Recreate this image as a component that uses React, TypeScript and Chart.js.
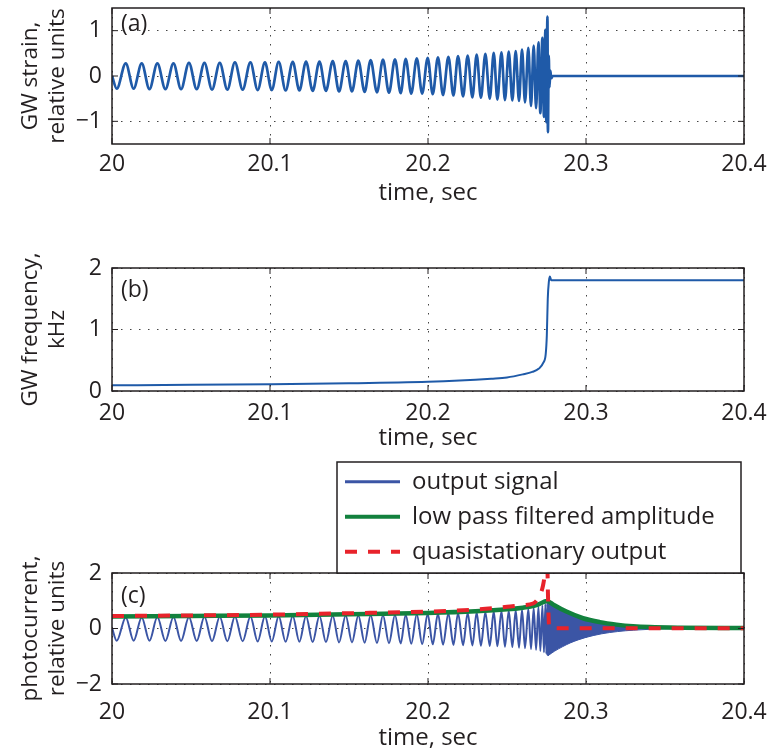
import React, { useEffect, useRef } from "react";
import { Chart, registerables } from "chart.js";
Chart.register(...registerables);

const FONT = '"Open Sans", "DejaVu Sans", sans-serif';
const TEXT = "#231f20";
const BLUE_A = "#1f5aa8";
const BLUE_C = "#3b55a5";
const GREEN = "#12813d";
const RED = "#e8232b";

const timeTicks = [20, 20.1, 20.2, 20.3, 20.4];
const strainTicks = [-1, 0, 1];
const freqTicks = [0, 1, 2];
const photoTicks = [-2, 0, 2];

// times of the extrema of the chirp oscillation
const oscTimes = [
  20.0, 20.003, 20.0087, 20.0137, 20.0188, 20.0237, 20.0287, 20.0338, 20.0389, 20.0437,
  20.0487, 20.0536, 20.0585, 20.0633, 20.0682, 20.073, 20.0778, 20.0827, 20.0876, 20.0922,
  20.0968, 20.1011, 20.1055, 20.1099, 20.1144, 20.1186, 20.1228, 20.127, 20.1313, 20.1354,
  20.1397, 20.1437, 20.1479, 20.1519, 20.1559, 20.1599, 20.1637, 20.1677, 20.1715, 20.1753,
  20.1791, 20.1827, 20.1859, 20.1894, 20.1929, 20.1963, 20.1998, 20.203, 20.2063, 20.2095,
  20.2129, 20.2161, 20.219, 20.2222, 20.2251, 20.2281, 20.2308, 20.2335, 20.2363, 20.2391,
  20.2416, 20.2439, 20.2465, 20.2487, 20.2511, 20.2534, 20.2555, 20.2576, 20.2595, 20.2614,
  20.2635, 20.2652, 20.2669, 20.2684, 20.2699, 20.2711, 20.2724, 20.2734, 20.2743, 20.2749,
  20.2756, 20.2759,
];
const strainOsc = [
  0, -0.28, 0.28, -0.28, 0.28, -0.29, 0.28, -0.29, 0.28, -0.29,
  0.29, -0.29, 0.29, -0.3, 0.29, -0.3, 0.3, -0.3, 0.3, -0.31,
  0.3, -0.31, 0.31, -0.32, 0.31, -0.32, 0.32, -0.33, 0.32, -0.33,
  0.33, -0.34, 0.33, -0.34, 0.34, -0.35, 0.35, -0.36, 0.36, -0.37,
  0.37, -0.38, 0.38, -0.39, 0.39, -0.39, 0.4, -0.4, 0.41, -0.42,
  0.42, -0.43, 0.44, -0.45, 0.45, -0.47, 0.47, -0.48, 0.49, -0.5,
  0.51, -0.52, 0.52, -0.53, 0.54, -0.54, 0.55, -0.55, 0.58, -0.58,
  0.62, -0.66, 0.67, -0.71, 0.74, -0.82, 0.84, -0.9, 1.02, -1.02,
  1.31, -1.24,
];
const ringdownTimes = [20.2764, 20.2769, 20.2774, 20.278, 20.2789, 20.4];
const ringdownStrain = [0.45, -0.25, 0.12, -0.05, 0, 0];

const freqTimes = [
  20.0, 20.05, 20.1, 20.15, 20.2, 20.22, 20.24, 20.25, 20.26, 20.266, 20.27,
  20.273, 20.2745, 20.2752, 20.2758, 20.2765, 20.2772, 20.278, 20.4,
];
const freqValues = [
  0.093, 0.1, 0.11, 0.125, 0.15, 0.17, 0.2, 0.22, 0.27, 0.31, 0.36,
  0.46, 0.6, 0.9, 1.5, 1.78, 1.86, 1.8, 1.8,
];

const photoOsc = [
  0.02, -0.44, 0.4, -0.44, 0.4, -0.44, 0.41, -0.45, 0.41, -0.45,
  0.41, -0.45, 0.42, -0.46, 0.42, -0.46, 0.43, -0.46, 0.43, -0.47,
  0.44, -0.47, 0.44, -0.48, 0.45, -0.48, 0.45, -0.49, 0.46, -0.49,
  0.46, -0.5, 0.47, -0.5, 0.47, -0.51, 0.48, -0.52, 0.48, -0.53,
  0.49, -0.54, 0.5, -0.55, 0.51, -0.56, 0.52, -0.57, 0.53, -0.58,
  0.54, -0.59, 0.55, -0.6, 0.56, -0.61, 0.58, -0.62, 0.59, -0.63,
  0.61, -0.64, 0.62, -0.66, 0.64, -0.67, 0.66, -0.69, 0.68, -0.71,
  0.71, -0.74, 0.74, -0.77, 0.78, -0.81, 0.83, -0.86, 0.88, -0.92,
  0.95, -0.98,
];
const ringTimes = [20.2759, 20.28, 20.285, 20.29, 20.295, 20.3, 20.31, 20.32, 20.33, 20.34, 20.36, 20.4];
const ringUpper = [0.97, 0.82, 0.68, 0.55, 0.44, 0.35, 0.22, 0.13, 0.08, 0.05, 0.03, 0.02];
const ringLower = [-0.98, -0.82, -0.66, -0.52, -0.41, -0.32, -0.19, -0.11, -0.06, -0.03, 0.0, 0.01];

const lowPassTimes = [
  20.0, 20.05, 20.1, 20.15, 20.2, 20.23, 20.25, 20.26, 20.2665, 20.27, 20.2752,
  20.2775, 20.28, 20.2876, 20.2981, 20.3087, 20.3193, 20.3298, 20.3403, 20.36, 20.4,
];
const lowPassValues = [
  0.43, 0.45, 0.47, 0.51, 0.56, 0.62, 0.69, 0.75, 0.81, 0.87, 0.99,
  0.93, 0.84, 0.61, 0.37, 0.23, 0.14, 0.08, 0.05, 0.03, 0.02,
];

const quasiTimes = [
  20.0, 20.05, 20.1, 20.15, 20.2, 20.23, 20.25, 20.26, 20.2665, 20.2707,
  20.2728, 20.2739, 20.2748, 20.2754, 20.2759, 20.2764, 20.277, 20.4,
];
const quasiValues = [
  0.45, 0.47, 0.5, 0.55, 0.61, 0.68, 0.78, 0.84, 0.9, 1.19,
  1.55, 1.97, 2.6, 2.6, 1.3, 0.3, 0.01, 0.01,
];

const legendLabels = ["output signal", "low pass filtered amplitude", "quasistationary output"];

const pts = (xs: number[], ys: number[]) => xs.map((x, i) => ({ x, y: ys[i] }));
const fmt = (v: number) => String(Math.round(v * 10) / 10).replace("-", "\u2212");

function xScale(height: number, tickPad: number, titlePad: number) {
  return {
    type: "linear",
    min: 20,
    max: 20.4,
    afterBuildTicks: (s: any) => {
      s.ticks = timeTicks.map((v) => ({ value: v }));
    },
    afterFit: (s: any) => {
      s.height = height;
      s.paddingLeft = 0;
      s.paddingRight = 0;
    },
    ticks: {
      color: TEXT,
      font: { family: FONT, size: 23 },
      padding: tickPad,
      maxRotation: 0,
      autoSkip: false,
      callback: (v: any) => fmt(Number(v)),
    },
    grid: { color: "#444", lineWidth: 1, drawTicks: false },
    border: { display: false, dash: [1.5, 7.5] },
    title: {
      display: true,
      text: "time, sec",
      color: TEXT,
      font: { family: FONT, size: 24 },
      padding: { top: 0, bottom: titlePad },
    },
  };
}

function yScale(min: number, max: number, ticks: number[], title: string[]) {
  return {
    type: "linear",
    min,
    max,
    afterBuildTicks: (s: any) => {
      s.ticks = ticks.map((v) => ({ value: v }));
    },
    afterFit: (s: any) => {
      s.width = 112;
      s.paddingTop = 0;
      s.paddingBottom = 0;
    },
    ticks: {
      color: TEXT,
      font: { family: FONT, size: 23 },
      padding: 10,
      callback: (v: any) => fmt(Number(v)),
    },
    grid: { color: "#444", lineWidth: 1, drawTicks: false },
    border: { display: false, dash: [1.5, 7.5] },
    title: {
      display: true,
      text: title,
      color: TEXT,
      font: { family: FONT, size: 22.5 },
      padding: { top: 17, bottom: 0 },
    },
  };
}

const framePlugin = {
  id: "frame",
  afterDatasetsDraw(chart: any, _args: any, opts: any) {
    const { ctx, chartArea: a, scales } = chart;
    ctx.save();
    ctx.strokeStyle = TEXT;
    ctx.lineWidth = 1.5;
    ctx.setLineDash([]);
    ctx.strokeRect(a.left, a.top, a.right - a.left, a.bottom - a.top);
    ctx.lineWidth = 1;
    for (const v of timeTicks) {
      const px = scales.x.getPixelForValue(v);
      ctx.beginPath();
      ctx.moveTo(px, a.bottom);
      ctx.lineTo(px, a.bottom - 6);
      ctx.moveTo(px, a.top);
      ctx.lineTo(px, a.top + 6);
      ctx.stroke();
    }
    for (const v of opts.yTicks || []) {
      const py = scales.y.getPixelForValue(v);
      ctx.beginPath();
      ctx.moveTo(a.left, py);
      ctx.lineTo(a.left + 6, py);
      ctx.moveTo(a.right, py);
      ctx.lineTo(a.right - 6, py);
      ctx.stroke();
    }
    ctx.fillStyle = TEXT;
    ctx.font = `23px ${FONT}`;
    ctx.textBaseline = "middle";
    ctx.textAlign = "left";
    ctx.fillText(opts.label, a.left + 9, a.top + opts.labelDy);
    ctx.restore();
  },
};

const legendPlugin = {
  id: "boxLegend",
  afterDraw(chart: any) {
    const { ctx } = chart;
    const x0 = 337, y0 = 7, w = 404, h = 111;
    ctx.save();
    ctx.fillStyle = "#ffffff";
    ctx.fillRect(x0, y0, w, h);
    ctx.strokeStyle = TEXT;
    ctx.lineWidth = 1.5;
    ctx.strokeRect(x0, y0, w, h);
    const rows = [26.7, 61.7, 96.7];
    const colors = [BLUE_C, GREEN, RED];
    const widths = [3, 4, 4];
    rows.forEach((ry, i) => {
      ctx.beginPath();
      ctx.strokeStyle = colors[i];
      ctx.lineWidth = widths[i];
      ctx.setLineDash(i === 2 ? [12, 11] : []);
      ctx.moveTo(345, ry);
      ctx.lineTo(400, ry);
      ctx.stroke();
      ctx.setLineDash([]);
      ctx.fillStyle = TEXT;
      ctx.font = `24px ${FONT}`;
      ctx.textBaseline = "middle";
      ctx.textAlign = "left";
      ctx.fillText(legendLabels[i], 412, ry);
    });
    ctx.restore();
  },
};

const common = (padTop: number) => ({
  responsive: false,
  animation: false,
  layout: { padding: { top: padTop, right: 24, bottom: 0, left: 0 } },
  elements: { point: { radius: 0 } },
});

export default function App() {
  const refA = useRef<HTMLCanvasElement>(null);
  const refB = useRef<HTMLCanvasElement>(null);
  const refC = useRef<HTMLCanvasElement>(null);

  useEffect(() => {
    const chartA = new Chart(refA.current as HTMLCanvasElement, {
      type: "line",
      data: {
        datasets: [
          {
            data: pts(oscTimes.concat(ringdownTimes), strainOsc.concat(ringdownStrain)),
            borderColor: BLUE_A,
            borderWidth: 2.7,
            cubicInterpolationMode: "monotone",
            fill: false,
          },
        ],
      },
      options: {
        ...common(8),
        scales: {
          x: xScale(66, 7, 2.5),
          y: yScale(-1.5, 1.5, strainTicks, ["GW strain,", "relative units"]),
        },
        plugins: {
          legend: { display: false },
          tooltip: { enabled: false },
          frame: { label: "(a)", labelDy: 16, yTicks: strainTicks },
        },
      } as any,
      plugins: [framePlugin],
    });

    const chartB = new Chart(refB.current as HTMLCanvasElement, {
      type: "line",
      data: {
        datasets: [
          {
            data: pts(freqTimes, freqValues),
            borderColor: BLUE_A,
            borderWidth: 2,
            cubicInterpolationMode: "monotone",
            fill: false,
          },
        ],
      },
      options: {
        ...common(58),
        scales: {
          x: xScale(64, 9, 2),
          y: yScale(0, 2, freqTicks, ["GW frequency,", "kHz"]),
        },
        plugins: {
          legend: { display: false },
          tooltip: { enabled: false },
          frame: { label: "(b)", labelDy: 22, yTicks: freqTicks },
        },
      } as any,
      plugins: [framePlugin],
    });

    const chartC = new Chart(refC.current as HTMLCanvasElement, {
      type: "line",
      data: {
        datasets: [
          {
            label: legendLabels[0],
            data: pts(oscTimes, photoOsc),
            borderColor: BLUE_C,
            borderWidth: 2,
            cubicInterpolationMode: "monotone",
            fill: false,
            order: 5,
          },
          {
            data: pts(ringTimes, ringUpper),
            borderColor: BLUE_C,
            borderWidth: 1,
            cubicInterpolationMode: "monotone",
            fill: false,
            order: 4,
          },
          {
            data: pts(ringTimes, ringLower),
            borderColor: BLUE_C,
            backgroundColor: BLUE_C,
            borderWidth: 1,
            cubicInterpolationMode: "monotone",
            fill: "-1",
            order: 4,
          },
          {
            label: legendLabels[1],
            data: pts(lowPassTimes, lowPassValues),
            borderColor: GREEN,
            borderWidth: 4.5,
            cubicInterpolationMode: "monotone",
            fill: false,
            order: 2,
          },
          {
            label: legendLabels[2],
            data: pts(quasiTimes, quasiValues),
            borderColor: RED,
            borderWidth: 4,
            borderDash: [12, 11],
            cubicInterpolationMode: "monotone",
            fill: false,
            order: 1,
          },
        ],
      },
      options: {
        ...common(118),
        scales: {
          x: xScale(70, 15, 1.5),
          y: yScale(-2, 2, photoTicks, ["photocurrent,", "relative units"]),
        },
        plugins: {
          legend: { display: false },
          tooltip: { enabled: false },
          frame: { label: "(c)", labelDy: 23, yTicks: photoTicks },
        },
      } as any,
      plugins: [framePlugin, legendPlugin],
    });

    return () => {
      chartA.destroy();
      chartB.destroy();
      chartC.destroy();
    };
  }, []);

  const box = (top: number, h: number): React.CSSProperties => ({
    position: "absolute",
    left: 0,
    top,
    width: 768,
    height: h,
  });

  return (
    <div style={{ position: "absolute", left: 0, top: 0, width: 768, height: 754, background: "#fff" }}>
      <div style={box(0, 210)}>
        <canvas ref={refA} width={768} height={210} />
      </div>
      <div style={box(210, 245)}>
        <canvas ref={refB} width={768} height={245} />
      </div>
      <div style={box(455, 299)}>
        <canvas ref={refC} width={768} height={299} />
      </div>
    </div>
  );
}
